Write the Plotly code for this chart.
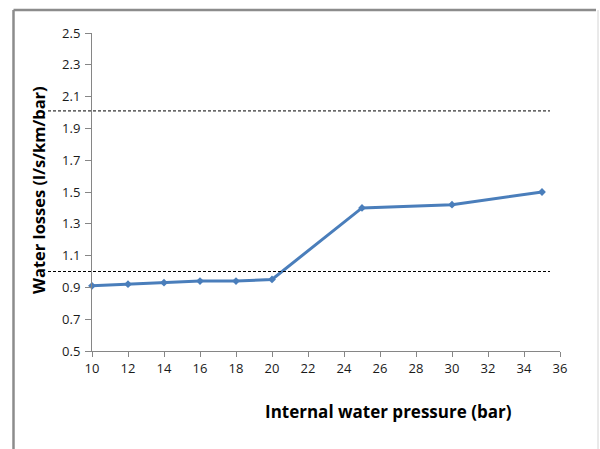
import plotly.graph_objects as go

pressure = [10, 12, 14, 16, 18, 20, 25, 30, 35]
losses = [0.91, 0.92, 0.93, 0.94, 0.94, 0.95, 1.40, 1.42, 1.50]
ref_levels = [1.0, 2.01]
x_title = "Internal water pressure (bar)"
y_title = "Water losses (l/s/km/bar)"

L, R, T, B = 92, 40, 33, 98
W, H = 600, 449
pw, ph = W - L - R, H - T - B

def px(x):
    return (x - L) / pw

def py(y):
    return (H - B - y) / ph

fig = go.Figure()
fig.add_trace(go.Scatter(
    x=pressure, y=losses, mode="lines+markers",
    line=dict(color="#4a7ebb", width=3),
    marker=dict(symbol="diamond", size=6, color="#4a7ebb"),
    showlegend=False, cliponaxis=False,
))

shapes = []
for lv in ref_levels:
    shapes.append(dict(type="line", xref="paper", yref="y",
                       x0=px(48), x1=px(550), y0=lv, y1=lv,
                       line=dict(color="black", width=1, dash="3px,2px")))
# outer frame
shapes.append(dict(type="line", xref="paper", yref="paper", x0=px(13.5), x1=px(13.5),
                   y0=py(10), y1=py(460), line=dict(color="#8c8c8c", width=2.5)))
shapes.append(dict(type="line", xref="paper", yref="paper", x0=px(13.5), x1=px(596),
                   y0=py(10), y1=py(10), line=dict(color="#8c8c8c", width=2.5)))
shapes.append(dict(type="line", xref="paper", yref="paper", x0=px(598), x1=px(598),
                   y0=py(10), y1=py(460), line=dict(color="#d4d4d4", width=1)))

fig.update_layout(
    width=W, height=H,
    margin=dict(l=L, r=R, t=T, b=B),
    paper_bgcolor="white", plot_bgcolor="white",
    font=dict(family="Open Sans", size=13, color="#1a1a1a"),
    shapes=shapes,
    annotations=[
        dict(text="<b>%s</b>" % x_title, xref="paper", yref="paper",
             x=px(388), y=py(411), showarrow=False, font=dict(size=17, color="black"),
             xanchor="center", yanchor="middle"),
        dict(text="<b>%s</b>" % y_title, xref="paper", yref="paper",
             x=px(38), y=py(190), showarrow=False, textangle=-90,
             font=dict(size=16.5, color="black"), xanchor="center", yanchor="middle"),
    ],
    xaxis=dict(range=[10, 36], dtick=2, tick0=10, showgrid=False, zeroline=False,
               showline=True, linecolor="#868686", linewidth=1,
               ticks="outside", ticklen=5, tickcolor="#868686"),
    yaxis=dict(range=[0.5, 2.5], dtick=0.2, tick0=0.5, showgrid=False, zeroline=False,
               showline=True, linecolor="#868686", linewidth=1, tickformat=".1f",
               ticks="outside", ticklen=6, tickcolor="#868686", ticklabelstandoff=2),
)

fig.write_html("out.html", config={"displayModeBar": False},
               post_script="document.body.style.margin='0px';")
